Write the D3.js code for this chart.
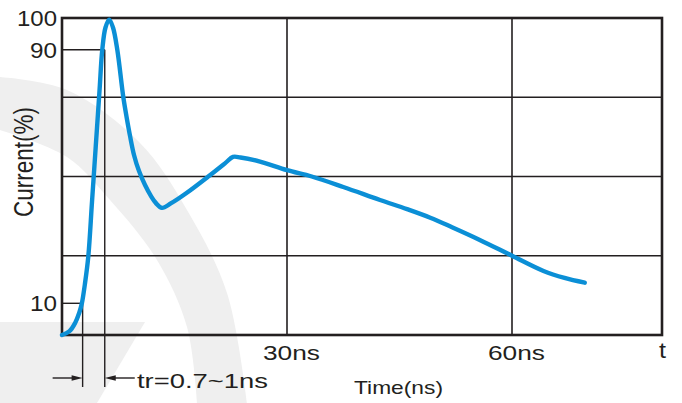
<!DOCTYPE html>
<html>
<head>
<meta charset="utf-8">
<script src="https://cdn.jsdelivr.net/npm/d3@7"></script>
<style>
  body { margin: 0; background: #fff; }
  svg text { font-family: "Liberation Sans", Arial, sans-serif; fill: #231f20; }
</style>
</head>
<body>
<div id="chart"></div>
<script>
// pulse data (ns, % of peak)
var timeNs = [0, 1.0, 1.75, 2.3, 2.65, 3.05, 3.5, 4.0, 4.5, 5.0, 5.37, 5.8, 6.3, 6.8, 7.37, 8.17, 8.63, 9.07, 9.6, 10.27, 11.07, 11.87, 12.53, 13.33, 14.5, 16.6, 19.5, 21.8, 22.8, 23.8, 26.4, 30, 33.3, 37.5, 42.4, 46, 49.1, 52, 55.7, 60, 64.2, 67, 69.7];
var currentPct = [0, 1.2, 3.8, 7, 10, 16, 24.6, 42, 59.5, 77, 90, 97, 99.5, 97, 90, 75.1, 68.5, 62.8, 56.8, 51.7, 47.3, 43.8, 41.6, 40.1, 41.5, 44.8, 50, 54.3, 56.2, 56, 54.7, 52, 50, 46.7, 42.6, 39.7, 37, 34, 30, 25, 20.2, 18, 16.5];

var yTickValues = [100, 90, 10];
var yTickLabels = ["100", "90", "10"];
var xTickValues = [30, 60];
var xTickLabels = ["30ns", "60ns"];
var gridX = [30, 60];
var gridY = [25, 50, 75];
var riseLevels = [10, 90];
var riseTimes = [2.75, 5.7];

var width = 682,
  height = 403;

var svg = d3.select("#chart")
  .append("svg")
  .attr("width", width)
  .attr("height", height);

var x = d3.scaleLinear().domain([0, 80]).range([62, 662]);
var y = d3.scaleLinear().domain([0, 100]).range([335, 18]);

// faint watermark in the background
var wm = svg.append("g").attr("fill", "#efefef");
var outer = [[0, 77], [67, 90], [140, 143], [187, 210], [227, 293], [247, 403]];
var inner = [[197, 403], [187, 327], [157, 260], [110, 200], [67, 157], [0, 130]];
var edge = d3.line().curve(d3.curveCatmullRom);
wm.append("path")
  .attr("d", edge(outer) + "L" + edge(inner).slice(1) + "Z");
wm.append("path")
  .attr("d", "M0,322L145,322L97,403L0,403Z");

// grid
var grid = svg.append("g")
  .attr("stroke", "#231f20")
  .attr("stroke-width", 1.6);

grid.selectAll(".gx")
  .data(gridX)
  .enter().append("line")
  .attr("x1", d => x(d)).attr("x2", d => x(d))
  .attr("y1", y(100)).attr("y2", y(0));

grid.selectAll(".gy")
  .data(gridY)
  .enter().append("line")
  .attr("x1", x(0)).attr("x2", x(80))
  .attr("y1", d => y(d)).attr("y2", d => y(d));

// rise time markers (10% / 90%)
var marks = svg.append("g")
  .attr("stroke", "#231f20")
  .attr("stroke-width", 1.4);

riseLevels.forEach(function(lv, i) {
  var t = riseTimes[i];
  marks.append("line")
    .attr("x1", x(0)).attr("x2", x(t))
    .attr("y1", y(lv)).attr("y2", y(lv));
  marks.append("line")
    .attr("x1", x(t)).attr("x2", x(t))
    .attr("y1", y(lv)).attr("y2", 387);
});

// arrows pointing at the two marker lines
var arrowY = 378;
function arrow(tipX, dir) {
  var tail = tipX - dir * 30;
  marks.append("line")
    .attr("x1", tail).attr("x2", tipX - dir * 8)
    .attr("y1", arrowY).attr("y2", arrowY);
  svg.append("path")
    .attr("fill", "#231f20")
    .attr("d", "M" + tipX + "," + arrowY +
      "L" + (tipX - dir * 11) + "," + (arrowY - 2.8) +
      "L" + (tipX - dir * 11) + "," + (arrowY + 2.8) + "Z");
}
arrow(x(riseTimes[0]), 1);
arrow(x(riseTimes[1]), -1);

// frame
svg.append("rect")
  .attr("x", x(0)).attr("y", y(100))
  .attr("width", x(80) - x(0))
  .attr("height", y(0) - y(100))
  .attr("fill", "none")
  .attr("stroke", "#231f20")
  .attr("stroke-width", 2.6);

// the pulse
var pts = timeNs.map((t, i) => [t, currentPct[i]]);
var line = d3.line()
  .x(d => x(d[0]))
  .y(d => y(d[1]))
  .curve(d3.curveCatmullRom.alpha(0.5));

svg.append("path")
  .datum(pts)
  .attr("fill", "none")
  .attr("stroke", "#0b8fd6")
  .attr("stroke-width", 4.4)
  .attr("stroke-linecap", "round")
  .attr("stroke-linejoin", "round")
  .attr("d", line);

// y labels
var yWidths = [40, 27, 27];
svg.selectAll(".ylab")
  .data(yTickValues)
  .enter().append("text")
  .attr("x", (d, i) => 57 - yWidths[i])
  .attr("y", d => y(d) + 8)
  .attr("font-size", 22)
  .attr("textLength", (d, i) => yWidths[i])
  .attr("lengthAdjust", "spacingAndGlyphs")
  .text((d, i) => yTickLabels[i]);

// x labels
svg.selectAll(".xlab")
  .data(xTickValues)
  .enter().append("text")
  .attr("x", d => x(d) - 24)
  .attr("y", 360)
  .attr("font-size", 21)
  .attr("textLength", 57)
  .attr("lengthAdjust", "spacingAndGlyphs")
  .text((d, i) => xTickLabels[i]);

svg.append("text")
  .attr("x", 659).attr("y", 358)
  .attr("font-size", 22)
  .attr("textLength", 7)
  .attr("lengthAdjust", "spacingAndGlyphs")
  .text("t");

svg.append("text")
  .attr("x", 354).attr("y", 394)
  .attr("font-size", 19)
  .attr("textLength", 89)
  .attr("lengthAdjust", "spacingAndGlyphs")
  .text("Time(ns)");

svg.append("text")
  .attr("x", 137).attr("y", 388)
  .attr("font-size", 21)
  .attr("textLength", 131)
  .attr("lengthAdjust", "spacingAndGlyphs")
  .text("tr=0.7~1ns");

svg.append("text")
  .attr("transform", "translate(33,217) scale(1.25,1) rotate(-90)")
  .attr("font-size", 22.5)
  .text("Current(%)");
</script>
</body>
</html>
